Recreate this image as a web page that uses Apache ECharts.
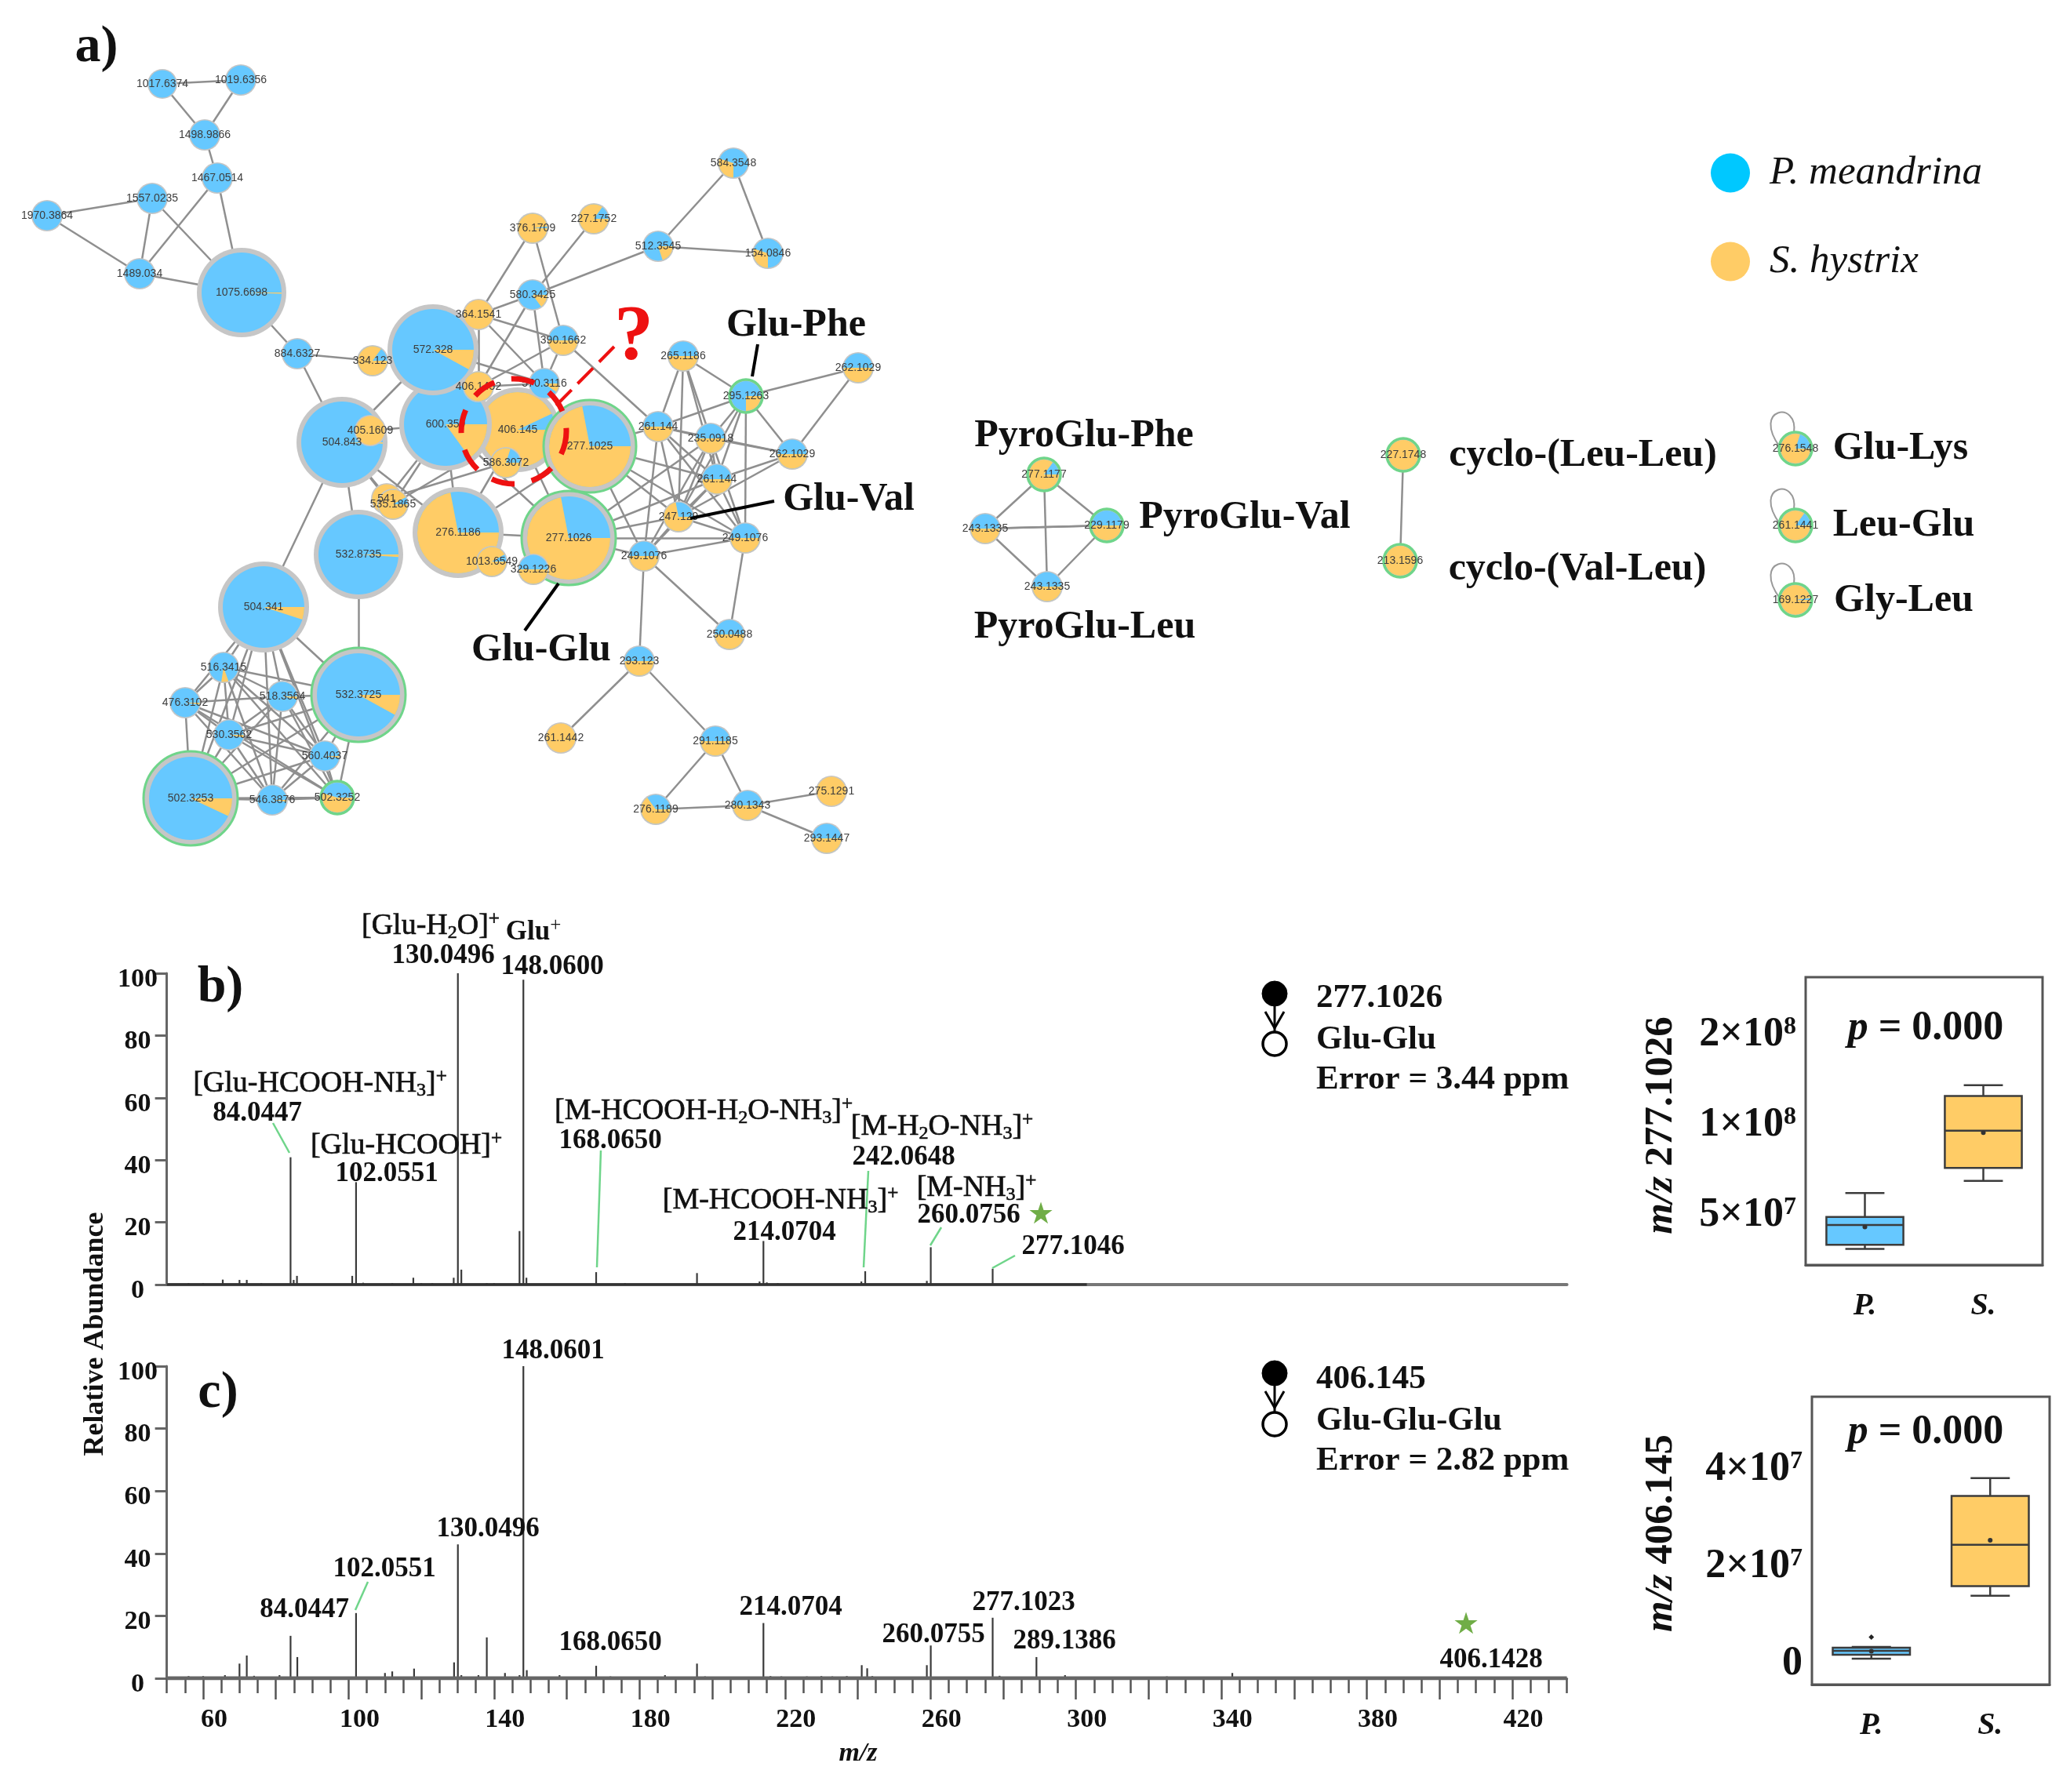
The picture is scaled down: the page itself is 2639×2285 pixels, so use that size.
<!DOCTYPE html>
<html><head><meta charset="utf-8">
<style>html,body{margin:0;padding:0;background:#fff}#c{width:2639px;height:2285px}</style>
<script src="https://cdn.jsdelivr.net/npm/echarts@6/dist/echarts.min.js"></script>
</head><body><div id="c"></div>
<script>
// ---------- panel a: molecular network ----------
const nodeLabels = ['1075.6698','406.145','600.359','572.328','504.843','532.8735','276.1186','277.1025','277.1026','504.341','532.3725','502.3253',
 '1017.6374','1019.6356','1498.9866','1467.0514','1557.0235','1970.3864','1489.034','884.6327','334.123','364.1541','376.1709','227.1752','580.3425','512.3545','584.3548','154.0846','390.1662','406.1452','570.3116',
 '295.1263','265.1186','262.1029','261.144','235.0918','262.1029#2','261.144#2','247.129','249.1076','249.1076#2','250.0488','405.1609','541','535.1865','1013.6549','329.1226','586.3072',
 '516.3415','476.3102','518.3564','530.3562','560.4037','546.3876','502.3252','293.123','261.1442','291.1185','280.1343','276.1189','275.1291','293.1447',
 '277.1177','243.1335','229.1179','243.1335#2','227.1748','213.1596','276.1548','261.1441','169.1227'];
const orangeShare = {'1075.6698':.005,'406.145':.93,'600.359':.15,'572.328':.08,'504.843':.005,'532.8735':.01,'276.1186':.72,'277.1025':.72,'277.1026':.72,'504.341':.05,'532.3725':.08,'502.3253':.07,
 '1017.6374':0,'1019.6356':0,'1498.9866':0,'1467.0514':0,'1557.0235':0,'1970.3864':0,'1489.034':0,'884.6327':0,'334.123':.85,'364.1541':1,'376.1709':.98,'227.1752':.85,'580.3425':.15,'512.3545':.2,'584.3548':.3,'154.0846':.3,'390.1662':.5,'406.1452':.98,'570.3116':.1,
 '295.1263':.25,'265.1186':.5,'262.1029':.5,'261.144':.5,'235.0918':.5,'262.1029#2':.5,'261.144#2':.5,'247.129':.72,'249.1076':.5,'249.1076#2':.5,'250.0488':.5,'405.1609':1,'541':1,'535.1865':.92,'1013.6549':.92,'329.1226':.5,'586.3072':.8,
 '516.3415':.08,'476.3102':.02,'518.3564':.03,'530.3562':.03,'560.4037':.02,'546.3876':.02,'502.3252':.55,'293.123':.5,'261.1442':1,'291.1185':.5,'280.1343':.5,'276.1189':.65,'275.1291':1,'293.1447':.5,
 '277.1177':.85,'243.1335':.5,'229.1179':.5,'243.1335#2':.5,'227.1748':1,'213.1596':1,'276.1548':.8,'261.1441':.85,'169.1227':.98};
const wedgeStartDegrees = {'516.3415':70,'584.3548':90,'154.0846':90};
const nodeLayout = {'1075.6698':[308,373,57],'406.145':[660,548,54],'600.359':[568,541,59],'572.328':[552,446,58],'504.843':[436,564,58],'532.8735':[457,707,57],'276.1186':[584,679,58],'277.1025':[752,569,59],'277.1026':[725,686,60],'504.341':[336,774,58],'532.3725':[457,886,60],'502.3253':[243,1018,60],
 '1017.6374':[207,107,19],'1019.6356':[307,102,20],'1498.9866':[261,172,20],'1467.0514':[277,227,20],'1557.0235':[194,253,20],'1970.3864':[60,275,20],'1489.034':[178,349,20],'884.6327':[379,451,20],'334.123':[475,460,20],'364.1541':[610,401,20],'376.1709':[679,291,20],'227.1752':[757,279,20],'580.3425':[679,376,20],'512.3545':[839,314,20],'584.3548':[935,208,20],'154.0846':[979,323,20],'390.1662':[718,434,20],'406.1452':[610,493,20],'570.3116':[694,489,20],
 '295.1263':[951,505,21],'265.1186':[871,454,20],'262.1029':[1094,469,20],'261.144':[839,544,20],'235.0918':[906,559,20],'262.1029#2':[1010,579,20],'261.144#2':[914,611,20],'247.129':[865,659,20],'249.1076':[950,686,20],'249.1076#2':[821,709,20],'250.0488':[930,809,20],'405.1609':[472,549,20],'541':[493,636,20],'535.1865':[501,643,20],'1013.6549':[627,716,20],'329.1226':[680,726,20],'586.3072':[645,590,20],
 '516.3415':[285,851,20],'476.3102':[236,896,20],'518.3564':[360,888,20],'530.3562':[292,937,20],'560.4037':[414,964,20],'546.3876':[347,1020,20],'502.3252':[430,1017,21],'293.123':[815,843,20],'261.1442':[715,941,20],'291.1185':[912,945,20],'280.1343':[953,1027,20],'276.1189':[836,1032,20],'275.1291':[1060,1009,20],'293.1447':[1054,1069,20],
 '277.1177':[1331,605,21],'243.1335':[1256,674,20],'229.1179':[1411,670,21],'243.1335#2':[1335,748,20],'227.1748':[1789,580,21],'213.1596':[1785,715,21],'276.1548':[2289,572,21],'261.1441':[2289,670,21],'169.1227':[2289,765,21]};
const greenRingNodes = ['277.1025','277.1026','532.3725','502.3253','295.1263','502.3252','277.1177','229.1179','227.1748','213.1596','276.1548','261.1441','169.1227'];
const selfLoopNodes = ['276.1548','261.1441','169.1227'];
const edges = [['1017.6374','1019.6356'],['1017.6374','1498.9866'],['1019.6356','1498.9866'],['1498.9866','1467.0514'],['1467.0514','1075.6698'],['1467.0514','1489.034'],['1557.0235','1970.3864'],['1557.0235','1489.034'],['1557.0235','1075.6698'],['1970.3864','1489.034'],['1489.034','1075.6698'],['1075.6698','884.6327'],['884.6327','334.123'],['884.6327','504.843'],['334.123','572.328'],['504.843','532.8735'],['504.843','504.341'],['532.8735','532.3725'],['504.341','532.3725'],
 ['572.328','600.359'],['572.328','504.843'],['364.1541','376.1709'],['364.1541','580.3425'],['364.1541','390.1662'],['364.1541','406.1452'],['376.1709','390.1662'],['227.1752','580.3425'],['580.3425','512.3545'],['512.3545','584.3548'],['512.3545','154.0846'],['584.3548','154.0846'],['580.3425','570.3116'],['580.3425','406.1452'],['390.1662','570.3116'],['390.1662','406.1452'],['390.1662','261.144'],['364.1541','570.3116'],['406.1452','570.3116'],['572.328','570.3116'],
 ['265.1186','295.1263'],['295.1263','262.1029'],['295.1263','261.144'],['295.1263','235.0918'],['295.1263','262.1029#2'],['295.1263','261.144#2'],['295.1263','247.129'],['295.1263','249.1076'],['265.1186','261.144'],['265.1186','235.0918'],['265.1186','261.144#2'],['265.1186','247.129'],['262.1029','262.1029#2'],
 ['261.144','235.0918'],['261.144','262.1029#2'],['261.144','261.144#2'],['261.144','247.129'],['261.144','249.1076'],['261.144','249.1076#2'],['235.0918','262.1029#2'],['235.0918','261.144#2'],['235.0918','247.129'],['235.0918','249.1076'],['235.0918','249.1076#2'],['262.1029#2','261.144#2'],['262.1029#2','247.129'],['261.144#2','247.129'],['261.144#2','249.1076'],['261.144#2','249.1076#2'],['247.129','249.1076'],['247.129','249.1076#2'],['249.1076','249.1076#2'],['249.1076','250.0488'],['249.1076#2','250.0488'],['249.1076#2','293.123'],
 ['277.1025','261.144'],['277.1025','261.144#2'],['277.1025','247.129'],['277.1025','249.1076#2'],['277.1025','249.1076'],['277.1026','235.0918'],['277.1026','247.129'],['277.1026','249.1076#2'],['277.1026','249.1076'],['277.1026','276.1186'],['277.1026','277.1025'],['277.1026','329.1226'],['277.1026','261.144#2'],
 ['293.123','261.1442'],['293.123','291.1185'],['291.1185','280.1343'],['291.1185','276.1189'],['276.1189','280.1343'],['280.1343','275.1291'],['280.1343','293.1447'],
 ['600.359','541'],['600.359','535.1865'],['504.843','541'],['504.843','535.1865'],['535.1865','406.145'],['541','586.3072'],['276.1186','600.359'],['276.1186','406.145'],['276.1186','277.1025'],['406.145','277.1026'],['405.1609','600.359'],['405.1609','504.843'],['504.843','276.1186'],['600.359','277.1026'],
 ['504.341','516.3415'],['504.341','476.3102'],['504.341','518.3564'],['504.341','530.3562'],['504.341','560.4037'],['504.341','546.3876'],['504.341','502.3252'],['504.341','502.3253'],['516.3415','476.3102'],['516.3415','518.3564'],['516.3415','530.3562'],['516.3415','560.4037'],['516.3415','546.3876'],['516.3415','502.3252'],['516.3415','502.3253'],['516.3415','532.3725'],['476.3102','518.3564'],['476.3102','530.3562'],['476.3102','560.4037'],['476.3102','546.3876'],['476.3102','502.3252'],['476.3102','502.3253'],['518.3564','530.3562'],['518.3564','560.4037'],['518.3564','546.3876'],['518.3564','502.3252'],['518.3564','502.3253'],['518.3564','532.3725'],['530.3562','560.4037'],['530.3562','546.3876'],['530.3562','502.3252'],['530.3562','502.3253'],['530.3562','532.3725'],['560.4037','546.3876'],['560.4037','502.3252'],['560.4037','502.3253'],['560.4037','532.3725'],['546.3876','502.3252'],['546.3876','502.3253'],['546.3876','532.3725'],['502.3252','502.3253'],['502.3252','532.3725'],['502.3253','532.3725'],
 ['277.1177','243.1335'],['277.1177','229.1179'],['277.1177','243.1335#2'],['243.1335','229.1179'],['243.1335','229.1179'],['243.1335','243.1335#2'],['229.1179','243.1335#2'],['227.1748','213.1596']];

// ---------- panels b, c: MS/MS spectra (m/z, relative abundance) ----------
const peaksB = [[84.04,40.9],[102.05,32.9],[130.05,100],[148.06,97.9],[147,17.2],[85.8,2.8],[84.9,1.5],[101,2.8],[65.4,1.6],[70,1.5],[72,1.5],[117.8,2.2],[128.9,2.2],[131,4.8],[148.9,2.2],[168.07,4],[195.8,3.7],[214.07,14],[213,1],[242.06,4.3],[241,1],[260.08,12],[259,1.2],[277.1,5.1],[56,.5],[60,.5],[76,.5],[104,.6],[112,.5],[120,.5],[123,.5],[138,.5],[140,.5],[176,.5],[215,.7],[218,.5]];
const peaksC = [[84.04,13.6],[85.9,6.8],[70,4.7],[72,7.3],[102.05,20.9],[129,5.1],[130.05,42.9],[131,1],[138,13.1],[148.06,100],[149,2.6],[147,1],[118,3.1],[112,2.2],[110,1.7],[143,1.7],[135.7,1],[168.07,4],[195.8,4.7],[214.07,17.7],[187,1],[66,1],[60,.7],[56,.7],[81,1],[74,.8],[88,.5],[158,1],[172,.6],[198,.6],[216,.7],[219,.6],[226,.6],[230,.7],[241.1,4.2],[242.6,3.2],[233,.6],[237,.7],[244,.7],[259,4.2],[260.08,10.5],[277.1,19.4],[279,.8],[289.14,6.8],[297,1],[343,1.7],[325,.6],[388,.5],[406.14,.5],[261,.5]];
const baselineB = [[50,0],[303,0]];
const baselineC = [[50,0],[435,0]];
const mzLabelValues = [60,100,140,180,220,260,300,340,380,420];
const mzMajorTicks = [60,80,100,120,140,160,180,200,220,240,260,280,300,320,340,360,380,400,420];
const mzMinorTicks = [50,55,65,70,75,85,90,95,105,110,115,125,130,135,145,150,155,165,170,175,185,190,195,205,210,215,225,230,235,245,250,255,265,270,275,285,290,295,305,310,315,325,330,335,345,350,355,365,370,375,385,390,395,405,410,415,425,430,435];

// ---------- right panels: box plots [category, low, Q1, median, Q3, high] ----------
const speciesShort = ['P.','S.'];
const species = ['P. meandrina','S. hystrix'];
const box277 = [[0,3.78e7,3.9e7,4.54e7,4.83e7,5.8e7],[1,6.37e7,7.03e7,9.36e7,1.222e8,1.327e8]];
const mean277 = [[0,4.47e7],[1,9.22e7]];
const box406 = [[0,4.8e5,1.29e6,2.09e6,2.74e6,2.9e6],[1,1.34e7,1.54e7,2.39e7,3.39e7,3.76e7]];
const mean406 = [[0,2.0e6],[1,2.48e7]];
const outlier406 = [[0,4.9e6]];
const ticks277 = [3.54e7,5e7,7.07e7,1e8,1.41e8,2e8,2.83e8];
const labels277 = {'5e7':'{n|5×10}{s|7}','1e8':'{n|1×10}{s|8}','2e8':'{n|2×10}{s|8}'};
const labelValues277 = [5e7,1e8,2e8];
const ticks406 = [0,1e7,2e7,3e7,4e7,5e7];
const labelValues406 = [0,2e7,4e7];

// ---------- styling ----------
const SERIF='"Liberation Serif"', SANS='"Liberation Sans"';
const BLUE='#66c8ff', ORANGE='#ffcc66', GREY='#c6c6c6', GREEN='#6fd58a', GREEN2='#70ad47';
const ionRich={sub:{fontSize:24,fontFamily:SERIF,fontWeight:'normal',verticalAlign:'bottom',fill:'#111',lineHeight:42},sup:{fontSize:25,fontFamily:SERIF,verticalAlign:'top',fill:'#111',lineHeight:42},
  i:{fontStyle:'italic',fontWeight:'bold',fontFamily:SERIF,fontSize:51,fill:'#111'},m:{fontStyle:'italic',fontWeight:'bold',fontFamily:SERIF,fontSize:34,fill:'#111'},n:{fontFamily:SERIF,fontWeight:'bold',fontSize:51,fill:'#111'},p:{fontFamily:SERIF,fontWeight:'bold',fontSize:52,fill:'#111'},pi:{fontStyle:'italic',fontWeight:'bold',fontFamily:SERIF,fontSize:52,fill:'#111'}};

const TXT = (text,x,y,size,weight,opt={})=>({type:'text',x,y:y+3,z:200,rotation:opt.rot||0,silent:true,style:{text,fontFamily:SERIF,fontSize:size,fontWeight:weight,fontStyle:opt.it?'italic':'normal',fill:opt.fill||'#111',align:opt.al||'center',verticalAlign:'middle',rich:ionRich,stroke:opt.semi?'#111':null,lineWidth:opt.semi?0.7:0}});
const LINE=(x1,y1,x2,y2,stroke,w,dash)=>({type:'line',z:190,silent:true,shape:{x1,y1,x2,y2},style:{stroke,lineWidth:w,lineDash:dash||null}});
const glyph=(x,y1,y2)=>[
 {type:'circle',z:190,silent:true,shape:{cx:x,cy:y1,r:16},style:{fill:'#000',stroke:'#000'}},
 {type:'circle',z:190,silent:true,shape:{cx:x,cy:y2,r:15},style:{fill:'#fff',stroke:'#000',lineWidth:3.5}},
 LINE(x,y1+16,x,y2-14,'#000',3),
 {type:'polyline',z:190,silent:true,shape:{points:[[x-12,y1+23],[x,y1+44],[x+12,y1+23]]},style:{stroke:'#000',fill:null,lineWidth:3}}];
const ION=(t,x,y)=>TXT(t,x,y,38,'normal',{semi:true});

const annotationElements=[
 TXT('a)',123,58,66,'bold'),TXT('b)',281,1257,66,'bold'),TXT('c)',278,1774,66,'bold'),
 TXT('Glu-Phe',1015,412,50,'bold'),TXT('Glu-Val',1082,634,50,'bold'),TXT('Glu-Glu',690,826,50,'bold'),
 TXT('PyroGlu-Phe',1382,553,50,'bold'),TXT('PyroGlu-Val',1587,657,50,'bold'),TXT('PyroGlu-Leu',1383,797,50,'bold'),
 TXT('cyclo-(Leu-Leu)',2018,578,50,'bold'),TXT('cyclo-(Val-Leu)',2011,723,50,'bold'),
 TXT('Glu-Lys',2423,569,50,'bold'),TXT('Leu-Glu',2427,667,50,'bold'),TXT('Gly-Leu',2427,763,50,'bold'),
 TXT('?',808,428,100,'bold',{fill:'#ee1111'}),
 {type:'circle',z:195,silent:true,shape:{cx:655,cy:550,r:67},style:{fill:null,stroke:'#ee1111',lineWidth:7,lineDash:[30,22]}},
 LINE(709,517,783,442,'#ee1111',4,[28,11]),
 LINE(966,439,959,480,'#000',4),LINE(987,639,880,661,'#000',4),LINE(712,744,669,804,'#000',4),
 // spectrum b
 ION('[Glu-H{sub|2}O]{sup|+}',549,1178),TXT('130.0496',565,1216,35,'bold'),
 TXT('Glu{sup|+}',680,1186,35,'bold'),TXT('148.0600',704,1230,35,'bold'),
 ION('[Glu-HCOOH-NH{sub|3}]{sup|+}',408,1379),TXT('84.0447',328,1417,35,'bold'),
 ION('[Glu-HCOOH]{sup|+}',518,1458),TXT('102.0551',493,1494,35,'bold'),
 ION('[M-HCOOH-H{sub|2}O-NH{sub|3}]{sup|+}',897,1414),TXT('168.0650',778,1452,35,'bold'),
 ION('[M-HCOOH-NH{sub|3}]{sup|+}',995,1528),TXT('214.0704',1000,1569,35,'bold'),
 ION('[M-H{sub|2}O-NH{sub|3}]{sup|+}',1201,1434),TXT('242.0648',1152,1473,35,'bold'),
 ION('[M-NH{sub|3}]{sup|+}',1245,1512),TXT('260.0756',1235,1547,35,'bold'),
 TXT('277.1046',1368,1587,35,'bold'),
 TXT('★',1327,1547,38,'normal',{fill:GREEN2}),
 LINE(348,1432,369,1470,GREEN,2.5),LINE(766,1467,761,1616,GREEN,2.5),LINE(1107,1493,1101,1616,GREEN,2.5),LINE(1200,1565,1186,1588,GREEN,2.5),LINE(1294,1601,1265,1617,GREEN,2.5),
 ...glyph(1625,1267,1331),
 TXT('277.1026',1678,1270,43,'bold',{al:'left'}),TXT('Glu-Glu',1678,1323,43,'bold',{al:'left'}),TXT('Error = 3.44 ppm',1678,1374,43,'bold',{al:'left'}),
 // spectrum c
 TXT('148.0601',705,1720,35,'bold'),TXT('130.0496',622,1947,35,'bold'),TXT('102.0551',490,1998,35,'bold'),TXT('84.0447',388,2050,35,'bold'),TXT('168.0650',778,2092,35,'bold'),TXT('214.0704',1008,2047,35,'bold'),
 TXT('277.1023',1305,2041,35,'bold'),TXT('260.0755',1190,2082,35,'bold'),TXT('289.1386',1357,2090,35,'bold'),TXT('406.1428',1901,2114,35,'bold'),
 TXT('★',1869,2070,38,'normal',{fill:GREEN2}),
 LINE(469,2017,453,2053,GREEN,2.5),
 ...glyph(1625,1751,1816),
 TXT('406.145',1678,1756,43,'bold',{al:'left'}),TXT('Glu-Glu-Glu',1678,1809,43,'bold',{al:'left'}),TXT('Error = 2.82 ppm',1678,1860,43,'bold',{al:'left'}),
 TXT('Relative Abundance',122,1698,36,'bold',{rot:Math.PI/2}),
 TXT('{m|m/z}',1094,2233,34,'bold'),
 // box plots
 TXT('{i|m/z} {n|277.1026}',2118,1432,51,'bold',{rot:Math.PI/2}),
 TXT('{i|m/z} {n|406.145}',2118,1952,51,'bold',{rot:Math.PI/2}),
 TXT('{pi|p} {p|= 0.000}',2455,1309,52,'bold'),
 TXT('{pi|p} {p|= 0.000}',2455,1824,52,'bold')
];

// ---------- series builders ----------
const nodeData = nodeLabels.map(id=>[...nodeLayout[id],orangeShare[id],greenRingNodes.includes(id)?1:0,selfLoopNodes.includes(id)?1:0,wedgeStartDegrees[id]||0]);
function renderNode(p,api){
  const c=api.coord([api.value(0),api.value(1)]), r=api.value(2), s=api.value(3), green=api.value(4), loop=api.value(5), a0=api.value(6)*Math.PI/180;
  const big=r>30, kids=[];
  if(loop) kids.push({type:'bezierCurve',shape:{x1:c[0]-2,y1:c[1]-20,cpx1:c[0]+4,cpy1:c[1]-62,cpx2:c[0]-56,cpy2:c[1]-52,x2:c[0]-20,y2:c[1]-2},style:{stroke:'#999',fill:null,lineWidth:2}});
  if(green) kids.push({type:'circle',shape:{cx:c[0],cy:c[1],r:r},style:{fill:GREY,stroke:GREEN,lineWidth:big?3:3.5}});
  const gr=green?r-1:r, inner=big?gr-6:gr-(green?1:1.5);
  if(!green) kids.push({type:'circle',shape:{cx:c[0],cy:c[1],r:gr},style:{fill:GREY}});
  kids.push({type:'circle',shape:{cx:c[0],cy:c[1],r:inner},style:{fill:s>=1?ORANGE:BLUE}});
  if(s>0&&s<1) kids.push({type:'sector',shape:{cx:c[0],cy:c[1],r:inner,r0:0,startAngle:a0,endAngle:a0+2*Math.PI*s,clockwise:true},style:{fill:ORANGE}});
  return {type:'group',children:kids};
}
function renderNodeLabel(p,api){
  const c=api.coord([api.value(0),api.value(1)]);
  return {type:'text',style:{text:nodeLabels[p.dataIndex].split('#')[0],x:c[0],y:c[1],align:'center',verticalAlign:'middle',fontFamily:SANS,fontSize:14,fill:'#3c3c3c'}};
}
function renderBox(p,api){
  const x=api.value(0), xa=api.coord([x,api.value(3)])[0], band=api.coord([1,api.value(3)])[0]-api.coord([0,api.value(3)])[0];
  const Y=i=>api.coord([x,api.value(i)])[1], hw=band*0.325, cap=band*0.165, st={stroke:'#3c3c3c',lineWidth:2.5,fill:null};
  return {type:'group',children:[
    {type:'line',shape:{x1:xa,y1:Y(1),x2:xa,y2:Y(2)},style:st},{type:'line',shape:{x1:xa,y1:Y(4),x2:xa,y2:Y(5)},style:st},
    {type:'line',shape:{x1:xa-cap,y1:Y(1),x2:xa+cap,y2:Y(1)},style:st},{type:'line',shape:{x1:xa-cap,y1:Y(5),x2:xa+cap,y2:Y(5)},style:st},
    {type:'rect',shape:{x:xa-hw,y:Y(4),width:hw*2,height:Y(2)-Y(4)},style:{fill:x===0?BLUE:ORANGE,stroke:'#3c3c3c',lineWidth:2.5}},
    {type:'line',shape:{x1:xa-hw,y1:Y(3),x2:xa+hw,y2:Y(3)},style:st}]};
}
const hidden={show:false};
const xSpec=(grid)=>({type:'value',gridIndex:grid,position:'bottom',min:50,max:435,axisLine:{onZero:false,lineStyle:{color:'#777',width:4}},axisTick:hidden,axisLabel:hidden,splitLine:hidden});
const ySpec=(grid)=>({type:'value',gridIndex:grid,min:0,max:100,interval:20,axisLine:{lineStyle:{color:'#666',width:3}},axisTick:{length:15,lineStyle:{color:'#666',width:3}},splitLine:hidden,
  axisLabel:{align:'center',verticalAlign:'top',lineHeight:16,margin:37,fontFamily:SERIF,fontWeight:'bold',fontSize:34,color:'#111'}});
const catAxis=(grid)=>({type:'category',gridIndex:grid,position:'bottom',data:speciesShort,axisLine:{onZero:false,lineStyle:{color:'#555',width:3}},axisTick:{alignWithLabel:true,length:7,lineStyle:{color:'#555',width:2}},splitLine:hidden,
  axisLabel:{fontFamily:SERIF,fontWeight:'bold',fontStyle:'italic',fontSize:40,color:'#111',margin:33}});
const boxRich={n:{fontFamily:SERIF,fontWeight:'bold',fontSize:52,color:'#111'},s:{fontFamily:SERIF,fontWeight:'bold',fontSize:32,color:'#111',verticalAlign:'top',lineHeight:52}};

const option={
 animation:false,backgroundColor:'#fff',
 legend:{orient:'vertical',left:2176,top:190,itemWidth:50,itemHeight:50,itemGap:62,icon:'circle',data:species,selectedMode:false,
   textStyle:{fontFamily:SERIF,fontStyle:'italic',fontSize:51,color:'#111',padding:[6,0,0,20]}},
 graphic:{elements:annotationElements},
 grid:[
  {left:0,top:0,width:2639,height:2285,show:false},
  {left:212.6,top:1241,width:1785,height:397},
  {left:212.6,top:1742,width:1785,height:398},
  {left:2302,top:1246,width:302,height:367,show:true,borderColor:'#555',borderWidth:3},
  {left:2310,top:1781,width:303,height:367,show:true,borderColor:'#555',borderWidth:3}],
 xAxis:[
  {type:'value',gridIndex:0,min:0,max:2639,show:false},
  xSpec(1),
  {...xSpec(2),axisLine:{onZero:false,lineStyle:{color:'#777',width:3}},axisTick:{customValues:mzMajorTicks,length:27,lineStyle:{color:'#555',width:2.5}},
    axisLabel:{customValues:mzLabelValues,margin:36,padding:[0,0,0,28],fontFamily:SERIF,fontWeight:'bold',fontSize:34,color:'#111'}},
  catAxis(3),catAxis(4),
  {type:'value',gridIndex:2,position:'bottom',min:50,max:435,axisLine:{show:false,onZero:false},splitLine:hidden,axisLabel:hidden,axisTick:{customValues:mzMinorTicks,length:19,lineStyle:{color:'#555',width:2.5}}}],
 yAxis:[
  {type:'value',gridIndex:0,min:0,max:2285,inverse:true,show:false},
  ySpec(1),ySpec(2),
  {type:'log',gridIndex:3,logBase:2,min:3.34e7,max:3.04e8,axisLine:{lineStyle:{color:'#555',width:3}},axisTick:{customValues:ticks277,length:7,lineStyle:{color:'#555',width:2}},splitLine:hidden,minorTick:hidden,
    axisLabel:{customValues:labelValues277,margin:12,padding:[8,0,0,0],rich:boxRich,
      formatter:v=>labels277[Math.round(v/(v>=1e8?1e8:1e7))+'e'+(v>=1e8?8:7)]}},
  {type:'value',gridIndex:4,min:-4.83e6,max:5.43e7,axisLine:{lineStyle:{color:'#555',width:3}},axisTick:{customValues:ticks406,length:7,lineStyle:{color:'#555',width:2}},splitLine:hidden,
    axisLabel:{customValues:labelValues406,margin:12,padding:[8,0,0,0],rich:boxRich,
      formatter:v=>v===0?'{n|0}':'{n|'+Math.round(v/1e7)+'×10}{s|7}'}}],
 series:[
  {type:'scatter',name:species[0],xAxisIndex:0,yAxisIndex:0,data:[],itemStyle:{color:'#00c8ff',opacity:1}},
  {type:'scatter',name:species[1],xAxisIndex:0,yAxisIndex:0,data:[],itemStyle:{color:ORANGE,opacity:1}},
  {type:'graph',name:'edges',coordinateSystem:'cartesian2d',xAxisIndex:0,yAxisIndex:0,layout:'none',silent:true,symbol:'none',symbolSize:0,z:2,
   data:nodeLabels.map(id=>({name:id,value:nodeLayout[id].slice(0,2)})),
   links:edges.map(([source,target])=>({source,target})),lineStyle:{color:'#8f8f8f',width:2.5,opacity:1,curveness:0},label:hidden},
  {type:'custom',name:'nodes',coordinateSystem:'cartesian2d',xAxisIndex:0,yAxisIndex:0,z:3,silent:true,clip:false,renderItem:renderNode,data:nodeData},
  {type:'custom',name:'node labels',coordinateSystem:'cartesian2d',xAxisIndex:0,yAxisIndex:0,z:4,silent:true,clip:false,renderItem:renderNodeLabel,data:nodeData},
  {type:'bar',name:'spectrum b',xAxisIndex:1,yAxisIndex:1,barWidth:2.2,data:peaksB,itemStyle:{color:'#3a3a3a'},silent:true},
  {type:'line',name:'baseline b',xAxisIndex:1,yAxisIndex:1,data:baselineB,symbol:'none',lineStyle:{color:'#333',width:3.5},silent:true},
  {type:'bar',name:'spectrum c',xAxisIndex:2,yAxisIndex:2,barWidth:2.2,data:peaksC,itemStyle:{color:'#3a3a3a'},silent:true},
  {type:'line',name:'baseline c',xAxisIndex:2,yAxisIndex:2,data:baselineC,symbol:'none',lineStyle:{color:'#666',width:5},silent:true},
  {type:'custom',name:'box 277',xAxisIndex:3,yAxisIndex:3,renderItem:renderBox,data:box277,silent:true},
  {type:'scatter',name:'mean 277',xAxisIndex:3,yAxisIndex:3,data:mean277,symbolSize:6,itemStyle:{color:'#333',opacity:1},silent:true,z:5},
  {type:'custom',name:'box 406',xAxisIndex:4,yAxisIndex:4,renderItem:renderBox,data:box406,silent:true},
  {type:'scatter',name:'mean 406',xAxisIndex:4,yAxisIndex:4,data:mean406,symbolSize:6,itemStyle:{color:'#333',opacity:1},silent:true,z:5},
  {type:'scatter',name:'outlier 406',xAxisIndex:4,yAxisIndex:4,data:outlier406,symbol:'diamond',symbolSize:7,itemStyle:{color:'#222',opacity:1},silent:true,z:5}
 ]
};
const chart=echarts.init(document.getElementById('c'),null,{renderer:'canvas',width:2639,height:2285});
chart.setOption(option);
</script></body></html>
